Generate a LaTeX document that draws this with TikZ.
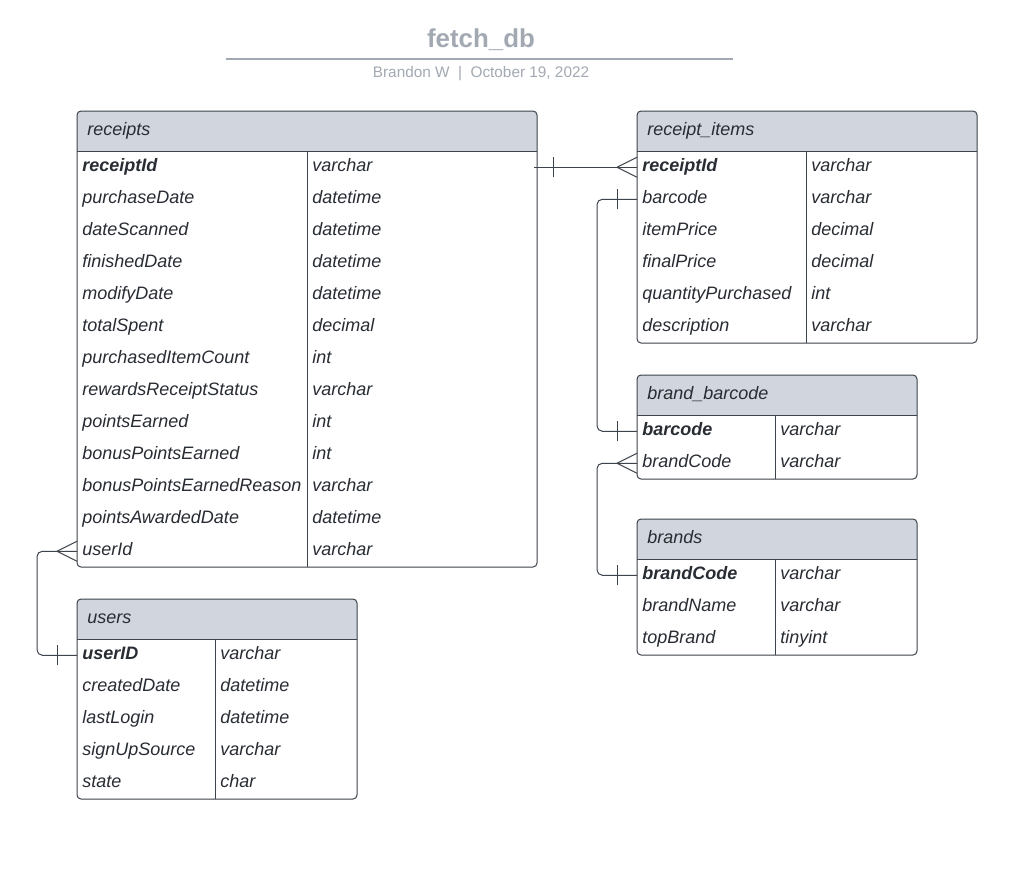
\documentclass[tikz,border=0pt]{standalone}
\usepackage{fontspec}
\setmainfont{Liberation Sans}
\usepackage{tikz}

\definecolor{ink}{HTML}{282C33}
\definecolor{frame}{HTML}{3D434B}
\definecolor{headfill}{HTML}{D1D6DE}
\definecolor{titlegray}{HTML}{A3A9B3}

\begin{document}
\begin{tikzpicture}[x=0.75pt,y=-0.75pt,
  tablebox/.style={draw=frame,line width=0.75pt,rounded corners=3pt},
  headbox/.style={fill=headfill,rounded corners=3pt},
  cell/.style={anchor=north west,inner xsep=3.75pt,inner ysep=0pt,
    minimum height=24pt,text width=#1,align=left,text=ink,
    text height=9.6pt,text depth=2.9pt,
    font=\itshape\fontsize{13.5}{16}\selectfont},
  headcell/.style={anchor=west,inner sep=0pt,text=ink,
    text height=9.6pt,text depth=2.9pt,
    font=\itshape\fontsize{13.5}{16}\selectfont},
  link/.style={draw=frame,line width=0.75pt,rounded corners=4pt}]

\useasboundingbox[fill=white] (0,0) rectangle (1021,878);

% title
\node[text=titlegray,font=\bfseries\fontsize{19.4}{22}\selectfont] (title) at (481,40) {fetch\_db};
\draw[titlegray,line width=1.5pt] (226,59) to (733,59);
\node[text=titlegray,font=\fontsize{11.5}{14}\selectfont] (byline) at (481,74) {Brandon W \ | \ October 19, 2022};

% receipts
\path[headbox] (77,111) rectangle (537,151);
\fill[headfill] (77,131) rectangle (537,151);
\draw[tablebox] (77,111) rectangle (537,567);
\draw[frame,line width=0.75pt] (77,151) to (537,151);
\draw[frame,line width=0.75pt] (307,151) to (307,567);
\node[headcell] (receipts) at (87,131) {receipts};
\node[cell=162pt,font=\bfseries\itshape\fontsize{13.5}{16}\selectfont] (receipts-receiptId) at (77,151) {receiptId};
\node[cell=162pt] (receipts-receiptId-t) at (307,151) {varchar};
\foreach \n/\t [count=\i] in {purchaseDate/datetime,dateScanned/datetime,finishedDate/datetime,
  modifyDate/datetime,totalSpent/decimal,purchasedItemCount/int,rewardsReceiptStatus/varchar,
  pointsEarned/int,bonusPointsEarned/int,bonusPointsEarnedReason/varchar,
  pointsAwardedDate/datetime,userId/varchar}{
  \node[cell=162pt] (receipts-\n) at (77,151+32*\i) {\n};
  \node[cell=162pt] (receipts-\n-t) at (307,151+32*\i) {\t};
}

% receipt_items
\path[headbox] (637,111) rectangle (977,151);
\fill[headfill] (637,131) rectangle (977,151);
\draw[tablebox] (637,111) rectangle (977,343);
\draw[frame,line width=0.75pt] (637,151) to (977,151);
\draw[frame,line width=0.75pt] (806,151) to (806,343);
\node[headcell] (items) at (647,131) {receipt\_items};
\node[cell=119.25pt,font=\bfseries\itshape\fontsize{13.5}{16}\selectfont] (items-receiptId) at (637,151) {receiptId};
\node[cell=120.75pt] (items-receiptId-t) at (806,151) {varchar};
\foreach \n/\t [count=\i] in {barcode/varchar,itemPrice/decimal,finalPrice/decimal,
  quantityPurchased/int,description/varchar}{
  \node[cell=119.25pt] (items-\n) at (637,151+32*\i) {\n};
  \node[cell=120.75pt] (items-\n-t) at (806,151+32*\i) {\t};
}

% brand_barcode
\path[headbox] (637,375) rectangle (917,415);
\fill[headfill] (637,395) rectangle (917,415);
\draw[tablebox] (637,375) rectangle (917,479);
\draw[frame,line width=0.75pt] (637,415) to (917,415);
\draw[frame,line width=0.75pt] (775,415) to (775,479);
\node[headcell] (bbc) at (647,395) {brand\_barcode};
\node[cell=96pt,font=\bfseries\itshape\fontsize{13.5}{16}\selectfont] (bbc-barcode) at (637,415) {barcode};
\node[cell=99pt] (bbc-barcode-t) at (775,415) {varchar};
\node[cell=96pt] (bbc-brandCode) at (637,447) {brandCode};
\node[cell=99pt] (bbc-brandCode-t) at (775,447) {varchar};

% brands
\path[headbox] (637,519) rectangle (917,559);
\fill[headfill] (637,539) rectangle (917,559);
\draw[tablebox] (637,519) rectangle (917,655);
\draw[frame,line width=0.75pt] (637,559) to (917,559);
\draw[frame,line width=0.75pt] (775,559) to (775,655);
\node[headcell] (brands) at (647,539) {brands};
\node[cell=96pt,font=\bfseries\itshape\fontsize{13.5}{16}\selectfont] (brands-brandCode) at (637,559) {brandCode};
\node[cell=99pt] (brands-brandCode-t) at (775,559) {varchar};
\foreach \n/\t [count=\i] in {brandName/varchar,topBrand/tinyint}{
  \node[cell=96pt] (brands-\n) at (637,559+32*\i) {\n};
  \node[cell=99pt] (brands-\n-t) at (775,559+32*\i) {\t};
}

% users
\path[headbox] (77,599) rectangle (357,639);
\fill[headfill] (77,619) rectangle (357,639);
\draw[tablebox] (77,599) rectangle (357,799);
\draw[frame,line width=0.75pt] (77,639) to (357,639);
\draw[frame,line width=0.75pt] (215,639) to (215,799);
\node[headcell] (users) at (87,619) {users};
\node[cell=96pt,font=\bfseries\itshape\fontsize{13.5}{16}\selectfont] (users-userID) at (77,639) {userID};
\node[cell=99pt] (users-userID-t) at (215,639) {varchar};
\foreach \n/\t [count=\i] in {createdDate/datetime,lastLogin/datetime,signUpSource/varchar,state/char}{
  \node[cell=96pt] (users-\n) at (77,639+32*\i) {\n};
  \node[cell=99pt] (users-\n-t) at (215,639+32*\i) {\t};
}

% relations
\draw[link] (receipts-receiptId-t.east) to (items-receiptId.west);
\draw[link] ([xshift=15pt]receipts-receiptId-t.east) ++(0,-7.5pt) -- ++(0,15pt);
\draw[link] ([xshift=-15pt]items-receiptId.west) -- ([yshift=7.5pt]items-receiptId.west);
\draw[link] ([xshift=-15pt]items-receiptId.west) -- ([yshift=-7.5pt]items-receiptId.west);

\draw[link] (items-barcode.west) -| (597,300) |- (bbc-barcode.west);
\draw[link] ([xshift=-15pt]items-barcode.west) ++(0,-7.5pt) -- ++(0,15pt);
\draw[link] ([xshift=-15pt]bbc-barcode.west) ++(0,-7.5pt) -- ++(0,15pt);

\draw[link] (bbc-brandCode.west) -| (597,520) |- (brands-brandCode.west);
\draw[link] ([xshift=-15pt]bbc-brandCode.west) -- ([yshift=7.5pt]bbc-brandCode.west);
\draw[link] ([xshift=-15pt]bbc-brandCode.west) -- ([yshift=-7.5pt]bbc-brandCode.west);
\draw[link] ([xshift=-15pt]brands-brandCode.west) ++(0,-7.5pt) -- ++(0,15pt);

\draw[link] (receipts-userId.west) -| (37,600) |- (users-userID.west);
\draw[link] ([xshift=-15pt]receipts-userId.west) -- ([yshift=7.5pt]receipts-userId.west);
\draw[link] ([xshift=-15pt]receipts-userId.west) -- ([yshift=-7.5pt]receipts-userId.west);
\draw[link] ([xshift=-15pt]users-userID.west) ++(0,-7.5pt) -- ++(0,15pt);
\end{tikzpicture}
\end{document}
